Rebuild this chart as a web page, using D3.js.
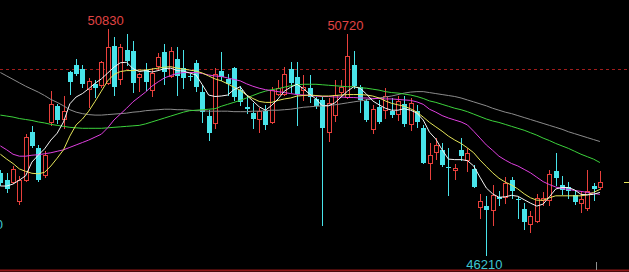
<!DOCTYPE html>
<html>
<head>
    <meta charset="UTF-8">
    <title>K线</title>
    <script src="https://d3js.org/d3.v7.min.js"></script>
    <style>
        html, body {
            margin: 0;
            padding: 0;
            background-color: #000;
        }

        svg {
            display: block;
        }

        .mark {
            font-family: "Liberation Sans", Arial, sans-serif;
            font-size: 13px;
        }
    </style>
</head>
<body>

<svg id="chart" width="629" height="272"></svg>

<script>
    // 日K数据 (左 -> 右)
    var opens = [
        47890, 47740, 47710, 47310, 47740, 48720, 48400, 47840, 48930, 49260,
        48980, 49960, 50090, 50010, 49600, 49710, 49690, 49720, 50480, 49810,
        50400, 50380, 49850, 49990, 49580, 50070, 50370, 49870, 50210, 50040,
        49870, 50130, 49550, 49050, 48900, 49980, 49800, 50040, 49580, 49240,
        49110, 49000, 49160, 48930, 49500, 49510, 50010, 49840, 49580, 49620,
        49390, 49380, 48720, 49070, 49550, 49440, 50090, 49640, 49360, 48790,
        49230, 49170, 49160, 49090, 49290, 48890, 49160, 48800, 48100, 48320,
        48360, 48010, 47940, 48360, 48150, 47960, 47190, 47210, 47130, 47400,
        47400, 47740, 47360, 47150, 46840, 46900, 47330, 47330, 47930, 47650,
        47610, 47440, 47270, 47180, 47620, 47610
    ];
    var highs = [
        47950, 47890, 48030, 47830, 48680, 48850, 48460, 48340, 49570, 49290,
        49460, 49970, 50210, 50090, 49830, 49780, 50180, 50830, 50670, 50530,
        50730, 50580, 49930, 50140, 50030, 50340, 50520, 50460, 50460, 50400,
        49910, 50200, 49690, 49170, 50030, 50370, 49910, 50050, 49660, 49480,
        49310, 49220, 49280, 49650, 49790, 50050, 50160, 50160, 49890, 49890,
        49440, 49440, 49420, 49790, 49790, 50720, 50380, 49690, 49400, 49280,
        49380, 49620, 49420, 49460, 49460, 49420, 49280, 48870, 48490, 48600,
        48490, 48400, 48080, 48600, 48390, 48060, 47460, 47420, 47640, 47510,
        47810, 47800, 47400, 47270, 47110, 47460, 47500, 47950, 48290, 47830,
        47700, 47510, 47500, 47950, 47690, 47930
    ];
    var lows = [
        47640, 47500, 47680, 47250, 47720, 48420, 47720, 47800, 48870, 48910,
        48810, 49500, 49890, 49640, 49230, 49440, 49640, 49700, 49480, 49700,
        50090, 49540, 49560, 49580, 49460, 49990, 49700, 49850, 49480, 49620,
        49790, 49560, 48930, 48560, 48800, 49790, 49480, 49380, 49280, 49110,
        48800, 48730, 48780, 48910, 49480, 49480, 49550, 48870, 49380, 49340,
        49210, 46820, 48540, 48950, 49460, 49420, 49620, 49140, 48940, 48700,
        48900, 49010, 49030, 48970, 48850, 48760, 48830, 48090, 47770, 48180,
        48020, 47440, 47770, 48150, 47920, 47600, 46960, 46210, 46820, 47230,
        47270, 47370, 46960, 46740, 46680, 46880, 47230, 47230, 47640, 47460,
        47370, 47250, 47080, 47130, 47340, 47550
    ];
    var closes = [
        47680, 47560, 47960, 47750, 48620, 48440, 47740, 48250, 49290, 48970,
        49150, 49750, 49920, 49700, 49770, 49620, 50150, 50460, 49640, 50460,
        50180, 49720, 49910, 49750, 49930, 50250, 49960, 50390, 49870, 49820,
        49840, 49640, 49140, 48700, 49920, 49840, 49700, 49450, 49340, 49190,
        49000, 49150, 48870, 49580, 49620, 49920, 49730, 49510, 49650, 49440,
        49260, 48810, 49320, 49480, 49640, 50280, 49660, 49370, 48960, 49200,
        48930, 49460, 49070, 49360, 48890, 49320, 48930, 48100, 48250, 48460,
        48050, 47980, 47990, 48240, 48300, 47610, 47310, 47140, 47440, 47350,
        47690, 47510, 47330, 46880, 47000, 47370, 47370, 47870, 47780, 47530,
        47520, 47300, 47360, 47520, 47560, 47710
    ];

    // 均线
    var ma5 = [
        47620, 47620, 47660, 47740, 47830, 48110, 48250, 48380, 48560, 48700,
        48930, 49300, 49440, 49510, 49610, 49720, 49810, 49930, 50050, 50140,
        50150, 50020, 49960, 49980, 49950, 49980, 50020, 50030, 49980, 49970,
        49930, 49890, 49690, 49480, 49450, 49460, 49480, 49590, 49650, 49480,
        49360, 49240, 49170, 49270, 49400, 49560, 49640, 49700, 49610, 49500,
        49400, 49260, 49260, 49320, 49440, 49560, 49650, 49620, 49500, 49360,
        49280, 49210, 49170, 49170, 49200, 49170, 49110, 48970, 48720, 48580,
        48360, 48170, 48160, 48160, 48140, 48030, 47800, 47580, 47460, 47390,
        47400, 47430, 47410, 47340, 47270, 47210, 47250, 47400, 47560, 47590,
        47590, 47540, 47450, 47440, 47450, 47490
    ];
    var ma10 = [
        48270, 48170, 48080, 47970, 47920, 47880, 47870, 47900, 48030, 48190,
        48360, 48640, 48870, 48990, 49150, 49350, 49560, 49770, 49900, 49960,
        49980, 49980, 49990, 49990, 50010, 50030, 50050, 50060, 50030, 50010,
        49990, 49970, 49930, 49870, 49810, 49770, 49710, 49640, 49580, 49480,
        49410, 49350, 49330, 49330, 49370, 49400, 49420, 49460, 49470, 49480,
        49470, 49460, 49460, 49470, 49480, 49490, 49490, 49490, 49480, 49460,
        49420, 49360, 49310, 49280, 49250, 49200, 49130, 49030, 48920, 48830,
        48740, 48640, 48560, 48490, 48400, 48300, 48150, 48020, 47890, 47780,
        47700, 47640, 47560, 47460, 47380, 47330, 47330, 47380, 47420, 47420,
        47420, 47420, 47420, 47440, 47490, 47550
    ];
    var ma20 = [
        48440, 48360, 48270, 48230, 48230, 48250, 48260, 48280, 48300, 48330,
        48360, 48410, 48460, 48510, 48560, 48620, 48680, 48810, 48970, 49090,
        49210, 49340, 49440, 49540, 49660, 49750, 49830, 49880, 49920, 49940,
        49940, 49940, 49920, 49890, 49870, 49860, 49830, 49800, 49770, 49710,
        49660, 49620, 49590, 49570, 49550, 49530, 49510, 49490, 49480, 49470,
        49460, 49450, 49450, 49440, 49440, 49430, 49430, 49420, 49420, 49410,
        49410, 49400, 49400, 49390, 49380, 49370, 49340, 49290, 49190, 49130,
        49060, 49010, 48970, 48930, 48870, 48740, 48600, 48460, 48350, 48230,
        48150, 48080, 48030, 47960, 47890, 47800, 47710, 47650, 47600, 47570,
        47550, 47530, 47510, 47490, 47470, 47450
    ];
    var ma40 = [
        49070, 49050, 49030, 49000, 48980, 48960, 48930, 48910, 48880, 48860,
        48840, 48820, 48810, 48800, 48800, 48800, 48800, 48810, 48820, 48830,
        48840, 48850, 48860, 48890, 48930, 48970, 49010, 49050, 49090, 49130,
        49160, 49170, 49180, 49190, 49200, 49250, 49290, 49330, 49370, 49420,
        49470, 49520, 49560, 49590, 49610, 49640, 49670, 49690, 49700, 49700,
        49700, 49690, 49680, 49670, 49660, 49650, 49650, 49630, 49620, 49600,
        49580, 49550, 49530, 49520, 49500, 49480, 49450, 49410, 49360, 49330,
        49290, 49250, 49210, 49180, 49140, 49090, 49040, 48990, 48950, 48920,
        48880, 48840, 48800, 48760, 48710, 48660, 48600, 48550, 48490, 48440,
        48390, 48330, 48270, 48220, 48170, 48100
    ];
    var ma60 = [
        49940, 49870, 49800, 49730, 49660, 49600, 49540, 49470, 49390, 49330,
        49260, 49180, 49130, 49100, 49080, 49070, 49070, 49080, 49090, 49100,
        49110, 49130, 49140, 49160, 49170, 49180, 49190, 49190, 49180, 49180,
        49170, 49160, 49160, 49150, 49150, 49150, 49150, 49140, 49140, 49140,
        49150, 49150, 49160, 49170, 49170, 49180, 49190, 49210, 49230, 49240,
        49250, 49260, 49270, 49280, 49300, 49320, 49340, 49360, 49380, 49400,
        49420, 49440, 49460, 49490, 49520, 49540, 49550, 49550, 49530, 49510,
        49490, 49470, 49450, 49420, 49380, 49340, 49300, 49260, 49210, 49170,
        49130, 49100, 49060, 49020, 48980, 48940, 48900, 48860, 48820, 48780,
        48730, 48690, 48650, 48610, 48570, 48530
    ];

    // 参考价 (红色虚线)
    var refPrice = 50010;
    // 标注的高低点: [序号, 位置]
    var marks = [[17, "top"], [55, "top"], [77, "bottom"]];

    var RED = "#e8403c";
    var CYAN = "#48e4ea";

    var W = 629, H = 272;
    var svg = d3.select("#chart");

    var x = d3.scaleLinear().domain([0, opens.length - 1]).range([0.4, 599.9]);
    var y = d3.scaleLinear().domain([46210, 50830]).range([255, 29]);

    var data = opens.map(function (o, i) {
        return {i: i, o: o, h: highs[i], l: lows[i], c: closes[i]};
    });
    function cx(d) { return Math.round(x(d.i)); }
    function up(d) { return d.c >= d.o; }

    // 参考线
    svg.append("line")
        .attr("x1", 0).attr("x2", W)
        .attr("y1", Math.round(y(refPrice)) + 0.5).attr("y2", Math.round(y(refPrice)) + 0.5)
        .attr("stroke", "#a01c1c")
        .attr("stroke-dasharray", "3,3");

    // 底边
    svg.append("line")
        .attr("x1", 0).attr("x2", W)
        .attr("y1", H - 1.5).attr("y2", H - 1.5)
        .attr("stroke", "#901818")
        .attr("stroke-width", 2);

    var k = svg.append("g").attr("shape-rendering", "crispEdges");

    // 影线
    k.selectAll("line.wick")
        .data(data)
        .enter().append("line")
        .attr("class", "wick")
        .attr("x1", function (d) { return cx(d) + 0.5; })
        .attr("x2", function (d) { return cx(d) + 0.5; })
        .attr("y1", function (d) { return Math.round(y(d.h)); })
        .attr("y2", function (d) { return Math.round(y(d.l)) + 1; })
        .attr("stroke", function (d) { return up(d) ? RED : CYAN; });

    // 实体: 阳线空心红, 阴线实心青
    k.selectAll("rect.body")
        .data(data)
        .enter().append("rect")
        .attr("class", "body")
        .attr("x", function (d) { return up(d) ? cx(d) - 1.5 : cx(d) - 2; })
        .attr("width", function (d) { return up(d) ? 4 : 5; })
        .attr("y", function (d) {
            var t = Math.round(y(Math.max(d.o, d.c)));
            return up(d) ? t + 0.5 : t;
        })
        .attr("height", function (d) {
            var hgt = Math.round(y(Math.min(d.o, d.c))) - Math.round(y(Math.max(d.o, d.c)));
            return up(d) ? Math.max(hgt, 0) : Math.max(hgt, 1);
        })
        .attr("fill", function (d) { return up(d) ? "#000" : CYAN; })
        .attr("stroke", function (d) { return up(d) ? RED : "none"; });

    // 均线
    var line = d3.line()
        .x(function (v, i) { return x(i); })
        .y(function (v) { return y(v); });

    var maList = [
        {v: ma60, color: "#8c8c8c"},
        {v: ma40, color: "#3cd23c"},
        {v: ma20, color: "#e040e0"},
        {v: ma10, color: "#e6e65a"},
        {v: ma5, color: "#f4f4f4"}
    ];
    svg.selectAll("path.ma")
        .data(maList)
        .enter().append("path")
        .attr("class", "ma")
        .attr("d", function (d) { return line(d.v); })
        .attr("fill", "none")
        .attr("stroke", function (d) { return d.color; })
        .attr("stroke-width", 1);

    // 高低点标注
    svg.selectAll("text.mark")
        .data(marks)
        .enter().append("text")
        .attr("class", "mark")
        .attr("text-anchor", "middle")
        .attr("x", function (m) { return x(m[0]) - 2; })
        .attr("y", function (m) {
            return m[1] === "top" ? y(highs[m[0]]) - 4 : y(lows[m[0]]) + 14;
        })
        .attr("fill", function (m) { return m[1] === "top" ? "#e04444" : "#3ec6d0"; })
        .text(function (m) { return m[1] === "top" ? highs[m[0]] : lows[m[0]]; });

    // 左侧被截断的标注
    svg.append("text")
        .attr("class", "mark")
        .attr("text-anchor", "end")
        .attr("x", 3)
        .attr("y", 229)
        .attr("fill", "#3ec6d0")
        .text("47050");

    // 右侧小标记 / 底部刻度
    svg.append("line")
        .attr("x1", 624).attr("x2", W)
        .attr("y1", Math.round(y(47700)) + 0.5).attr("y2", Math.round(y(47700)) + 0.5)
        .attr("stroke", "#e6e65a");
    svg.append("line")
        .attr("x1", 596.5).attr("x2", 596.5)
        .attr("y1", 262).attr("y2", H - 2)
        .attr("stroke", "#909090");
</script>
</body>
</html>
